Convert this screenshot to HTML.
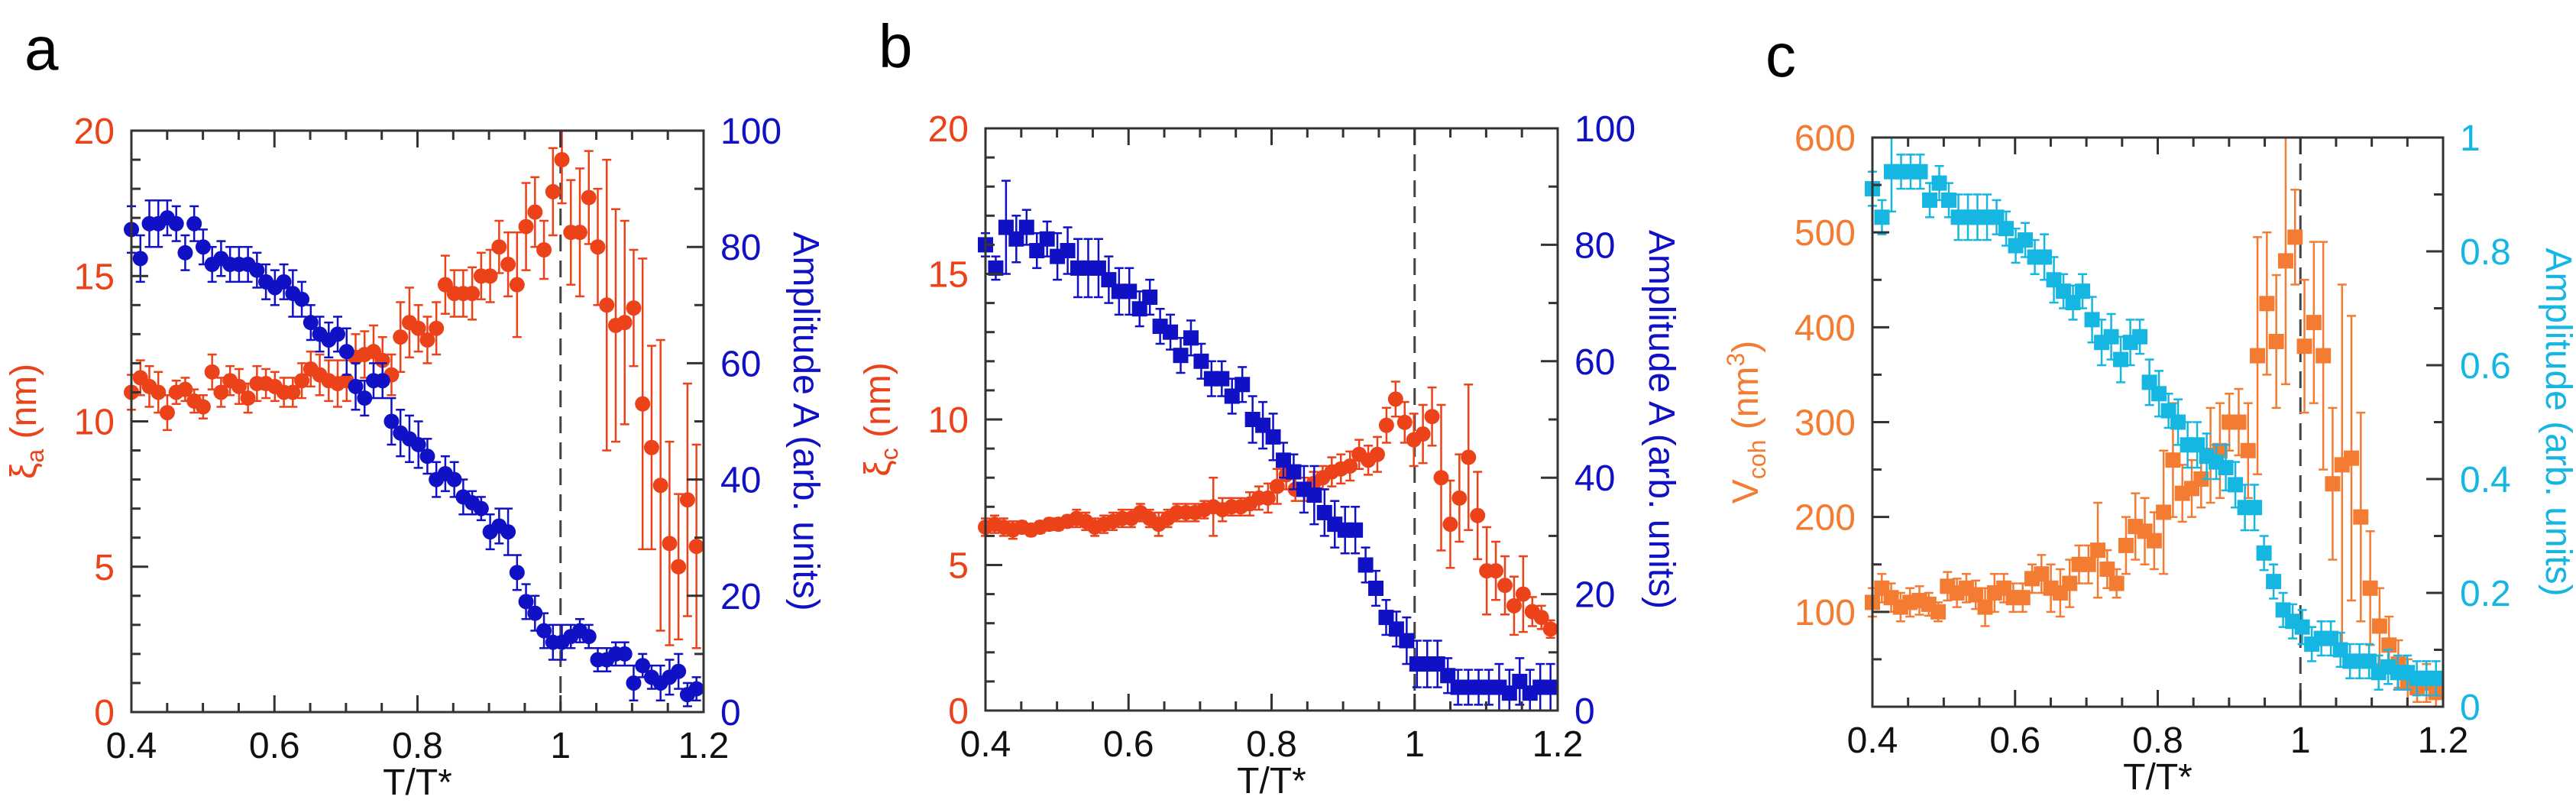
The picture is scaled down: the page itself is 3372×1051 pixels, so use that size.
<!DOCTYPE html>
<html><head><meta charset="utf-8"><style>
html,body{margin:0;padding:0;background:#fff;}
svg{display:block;font-family:"Liberation Sans",Arial,sans-serif;}
</style></head><body>
<svg id="fig" width="3372" height="1051" viewBox="0 0 3372 1051"></svg>
<script>
// ---- data ----
const aXiVals=[11,11.5,11.2,11,10.3,11,11.1,10.7,10.5,11.7,11,11.4,11.2,10.8,11.3,11.3,11.2,11,11,11.4,11.8,11.6,11.4,11.3,11.4,12.2,12.3,12.4,12.1,11.6,12.9,13.4,13.2,12.8,13.2,14.7,14.4,14.4,14.4,15,15,16,15.4,14.7,16.7,17.2,15.9,17.9,19,16.5,16.5,17.7,16,14,13.3,13.4,13.9,10.6,9.1,7.8,5.8,5.0,7.3,5.7];
const aXiErr=[0.6,0.6,0.7,0.7,0.6,0.4,0.4,0.4,0.4,0.6,0.5,0.5,0.6,0.5,0.6,0.5,0.5,0.5,0.5,0.6,0.6,0.7,0.7,0.8,0.7,0.8,0.8,0.9,0.8,0.7,1.2,1.2,0.8,0.8,0.9,1.0,0.8,0.8,0.9,0.8,0.9,0.9,1.1,1.8,1.5,1.2,1.0,1.5,1.5,1.8,2.2,1.6,2.0,5.0,4.0,3.5,2.0,5.0,3.5,5.0,3.5,2.5,4.0,3.5];
const aAmpVals=[83,78,84,84,85,84,79,84,80,77,78,77,77,77,76,74,73,74,72,71,67,65,64,65,62,56,54,57,57,50,48,47,46,44,40,41,40,37,36,35,31,32,31,24,19,17,14,12,12,13,14,13,9,9,10,10,5,8,6,5,6,7,3,4];
const aAmpErr=[4,4,4,4,3,3,3,3,3,3,3,3,3,3,3,3,3,3,4,3,3,3,3,3,4,4,3,3,3,4,4,4,4,3,3,3,3,3,2,2,3,3,4,3,3,3,3,3,3,2,2,2,2,2,2,2,3,2,2,3,3,3,2,2];
const bXiVals=[6.3,6.4,6.3,6.2,6.3,6.2,6.3,6.4,6.4,6.5,6.6,6.5,6.3,6.4,6.5,6.6,6.6,6.8,6.6,6.4,6.6,6.8,6.8,6.8,6.9,7.0,6.9,7.0,7.0,7.1,7.3,7.3,7.7,8.1,7.6,7.6,7.8,8.0,8.2,8.3,8.4,8.8,8.6,8.8,9.8,10.7,9.9,9.3,9.5,10.1,8.0,6.4,7.3,8.7,6.7,4.8,4.8,4.3,3.6,4.0,3.4,3.2,2.8];
const bXiErr=[0.3,0.3,0.3,0.3,0.2,0.2,0.2,0.2,0.2,0.2,0.3,0.3,0.3,0.3,0.3,0.3,0.3,0.3,0.3,0.4,0.3,0.3,0.3,0.3,0.3,1.0,0.4,0.3,0.3,0.4,0.4,0.5,0.6,0.5,0.4,0.4,0.4,0.4,0.5,0.5,0.5,0.5,0.5,0.6,0.6,0.6,0.7,0.9,1.0,1.0,2.5,1.5,1.5,2.5,1.5,1.5,1.0,1.0,1.0,1.3,0.5,0.4,0.3];
const bAmpVals=[80,76,83,81,83,79,81,78,79,76,76,76,74,72,72,69,71,66,65,61,64,60,57,57,54,56,50,49,47,43,41,38,37,34,32,31,31,25,21,16,14,12,8,8,8,6,4,4,4,4,4,3,5,3,4,4];
const bAmpErr=[2,2,8,4,3,3,3,4,4,5,5,5,4,4,4,3,3,3,3,3,3,3,3,3,3,3,4,4,4,3,3,4,5,4,4,4,4,3,3,3,3,4,4,4,4,3,3,3,3,3,4,4,4,4,4,4];
const cVolVals=[110,125,115,105,110,112,108,100,127,120,125,118,105,120,125,115,115,135,140,125,120,130,150,150,165,145,130,170,190,185,175,205,260,225,230,240,265,270,300,300,270,370,425,385,470,495,380,405,370,235,255,262,200,125,85,65,45,25,20,25,15];
const cVolErr=[15,15,15,15,15,15,12,10,15,15,15,15,20,20,15,15,15,15,20,25,25,25,20,20,50,20,15,30,35,35,30,65,60,30,30,30,50,50,30,35,50,125,75,70,130,50,70,85,120,80,190,150,110,60,40,30,25,25,15,20,20];
const cAmpVals=[0.91,0.86,0.94,0.94,0.94,0.94,0.89,0.92,0.89,0.86,0.86,0.86,0.86,0.86,0.84,0.81,0.82,0.79,0.79,0.75,0.73,0.71,0.73,0.68,0.64,0.65,0.61,0.64,0.65,0.57,0.55,0.52,0.50,0.46,0.46,0.44,0.43,0.42,0.39,0.35,0.35,0.27,0.22,0.17,0.15,0.14,0.11,0.12,0.12,0.10,0.08,0.08,0.08,0.06,0.07,0.06,0.06,0.05,0.05,0.05];
const cAmpErr=[0.03,0.03,0.07,0.03,0.03,0.03,0.03,0.03,0.03,0.04,0.04,0.04,0.04,0.03,0.03,0.03,0.03,0.03,0.04,0.04,0.03,0.03,0.03,0.04,0.04,0.04,0.04,0.04,0.03,0.04,0.04,0.03,0.04,0.04,0.04,0.04,0.03,0.04,0.04,0.04,0.04,0.03,0.03,0.03,0.03,0.03,0.03,0.03,0.03,0.03,0.03,0.03,0.03,0.03,0.03,0.03,0.03,0.03,0.03,0.03];
const xTicks=["0.4","0.6","0.8","1","1.2"];
const aLeftTicks=["0","5","10","15","20"];
const aRightTicks=["0","20","40","60","80","100"];
const cLeftTicks=["100","200","300","400","500","600"];
const cRightTicks=["0","0.2","0.4","0.6","0.8","1"];

const NS="http://www.w3.org/2000/svg";
const svg=document.getElementById('fig');
function mk(tag,attrs,parent,txt){const e=document.createElementNS(NS,tag);for(const k in attrs)e.setAttribute(k,attrs[k]);if(txt!==undefined)e.textContent=txt;(parent||svg).appendChild(e);return e;}
function xsFor(n){const out=[];for(let i=0;i<n;i++)out.push(0.40+i*(0.79/(n-1)));return out;}

function panel(p){
  const g=mk('g',{});
  
  
  const X=v=>p.L+(v-0.4)/(0.8)*(p.R-p.L);
  const YL=v=>p.B-(v-p.lmin)/(p.lmax-p.lmin)*(p.B-p.T);
  const YR=v=>p.B-(v-p.rmin)/(p.rmax-p.rmin)*(p.B-p.T);
  const lt=mk('text',{x:p.L-140,y:p.T-80,'font-size':80,fill:'#000'},g,p.id);
  
  const dl=mk('line',{x1:X(1),x2:X(1),y1:p.T,y2:p.B,stroke:'#444','stroke-width':3,'stroke-dasharray':'22,12'},g);
  
  function series(vals,errs,Y,color,shape,name){
    const sg=mk('g',{},g);
    
    const xs=xsFor(vals.length);
    vals.forEach((v,i)=>{
      const cx=X(xs[i]),cy=Y(v),e=errs[i]||0;
      const y1=Math.max(p.T,Y(v+e)),y2=Math.min(p.B,Y(v-e));
      mk('line',{x1:cx,x2:cx,y1:y1,y2:y2,stroke:color,'stroke-width':2.5},sg);
      if(Y(v+e)>=p.T) mk('line',{x1:cx-6,x2:cx+6,y1:y1,y2:y1,stroke:color,'stroke-width':2.5},sg);
      if(Y(v-e)<=p.B) mk('line',{x1:cx-6,x2:cx+6,y1:y2,y2:y2,stroke:color,'stroke-width':2.5},sg);
      let m;
      if(shape==='c') m=mk('circle',{cx:cx,cy:cy,r:10,fill:color},sg);
      else m=mk('rect',{x:cx-10,y:cy-10,width:20,height:20,fill:color},sg);
      
    });
  }
  series(p.s1[0],p.s1[1],YL,p.c1,p.sh1,p.n1);
  series(p.s2[0],p.s2[1],YR,p.c2,p.sh2,p.n2);
  const fr=mk('rect',{x:p.L,y:p.T,width:p.R-p.L,height:p.B-p.T,fill:'none',stroke:'#333','stroke-width':3},g);
  
  for(let v=0.4;v<=1.2001;v+=0.05){
    const major=Math.abs(v*10-Math.round(v*10))<1e-6&&Math.round(v*10)%2===0;
    const len=major?22:12;
    mk('line',{x1:X(v),x2:X(v),y1:p.B,y2:p.B-len,stroke:'#333','stroke-width':3},g);
    mk('line',{x1:X(v),x2:X(v),y1:p.T,y2:p.T+len,stroke:'#333','stroke-width':3},g);
  }
  xTicks.forEach(t=>{const e=mk('text',{x:X(parseFloat(t)),y:p.B+60,'font-size':48,'text-anchor':'middle',fill:'#111'},g,t);
    });
  const xt=mk('text',{x:(p.L+p.R)/2,y:p.B+108,'font-size':48,'text-anchor':'middle',fill:'#111'},g,'T/T*');
  
  const nl=p.lminor;
  for(let i=0;i<=nl;i++){const v=p.lmin+(p.lmax-p.lmin)*i/nl;const len=(i%p.lmajEvery===0)?22:12;
    mk('line',{x1:p.L,x2:p.L+len,y1:YL(v),y2:YL(v),stroke:'#333','stroke-width':3},g);}
  p.lt.forEach(t=>{const e=mk('text',{x:p.L-22,y:YL(parseFloat(t))+17,'font-size':48,'text-anchor':'end',fill:p.c1},g,t);
    });
  const nr=p.rminor;
  for(let i=0;i<=nr;i++){const v=p.rmin+(p.rmax-p.rmin)*i/nr;const len=(i%2===0)?22:12;
    mk('line',{x1:p.R,x2:p.R-len,y1:YR(v),y2:YR(v),stroke:'#333','stroke-width':3},g);}
  p.rt.forEach(t=>{const e=mk('text',{x:p.R+22,y:YR(parseFloat(t))+17,'font-size':48,'text-anchor':'start',fill:p.c2},g,t);
    });
  const cy=(p.T+p.B)/2;
  const la=mk('text',{x:p.L+p.ltx,y:cy,'font-size':48,'text-anchor':'middle',fill:p.c1,transform:`rotate(-90 ${p.L+p.ltx} ${cy})`},g);
  
  la.innerHTML=p.ltitle;
  const ra=mk('text',{x:p.R+p.rtx,y:cy,'font-size':48,'text-anchor':'middle',fill:p.c2,transform:`rotate(90 ${p.R+p.rtx} ${cy})`},g,p.rtitle);
  
}
const RED='#ec4219',BLUE='#1010c4',ORA='#f47c32',CYAN='#16b6e2';
panel({id:'a',L:172,R:921,T:171,B:932,lmin:0,lmax:20,rmin:0,rmax:100,lt:aLeftTicks,rt:aRightTicks,lminor:20,lmajEvery:5,rminor:10,
  s1:[aXiVals,aXiErr],s2:[aAmpVals,aAmpErr],c1:RED,c2:BLUE,sh1:'c',sh2:'c',n1:'xi-a-series',n2:'amplitude-series',
  ltitle:'ξ<tspan font-size="32" dy="10">a</tspan><tspan dy="-10"> (nm)</tspan>',rtitle:'Amplitude A (arb. units)',ltx:-125,rtx:118});
panel({id:'b',L:1290,R:2039,T:168,B:930,lmin:0,lmax:20,rmin:0,rmax:100,lt:aLeftTicks,rt:aRightTicks,lminor:20,lmajEvery:5,rminor:10,
  s1:[bXiVals,bXiErr],s2:[bAmpVals,bAmpErr],c1:RED,c2:BLUE,sh1:'c',sh2:'s',n1:'xi-c-series',n2:'amplitude-series',
  ltitle:'ξ<tspan font-size="32" dy="10">c</tspan><tspan dy="-10"> (nm)</tspan>',rtitle:'Amplitude A (arb. units)',ltx:-125,rtx:120});
panel({id:'c',L:2451,R:3198,T:180,B:925,lmin:0,lmax:600,rmin:0,rmax:1,lt:cLeftTicks,rt:cRightTicks,lminor:12,lmajEvery:2,rminor:10,
  s1:[cVolVals,cVolErr],s2:[cAmpVals,cAmpErr],c1:ORA,c2:CYAN,sh1:'s',sh2:'s',n1:'vcoh-series',n2:'amplitude-series',
  ltitle:'V<tspan font-size="32" dy="10">coh</tspan><tspan dy="-10"> (nm</tspan><tspan font-size="32" dy="-18">3</tspan><tspan dy="18">)</tspan>',rtitle:'Amplitude (arb. units)',ltx:-150,rtx:135});
</script>
</body></html>
